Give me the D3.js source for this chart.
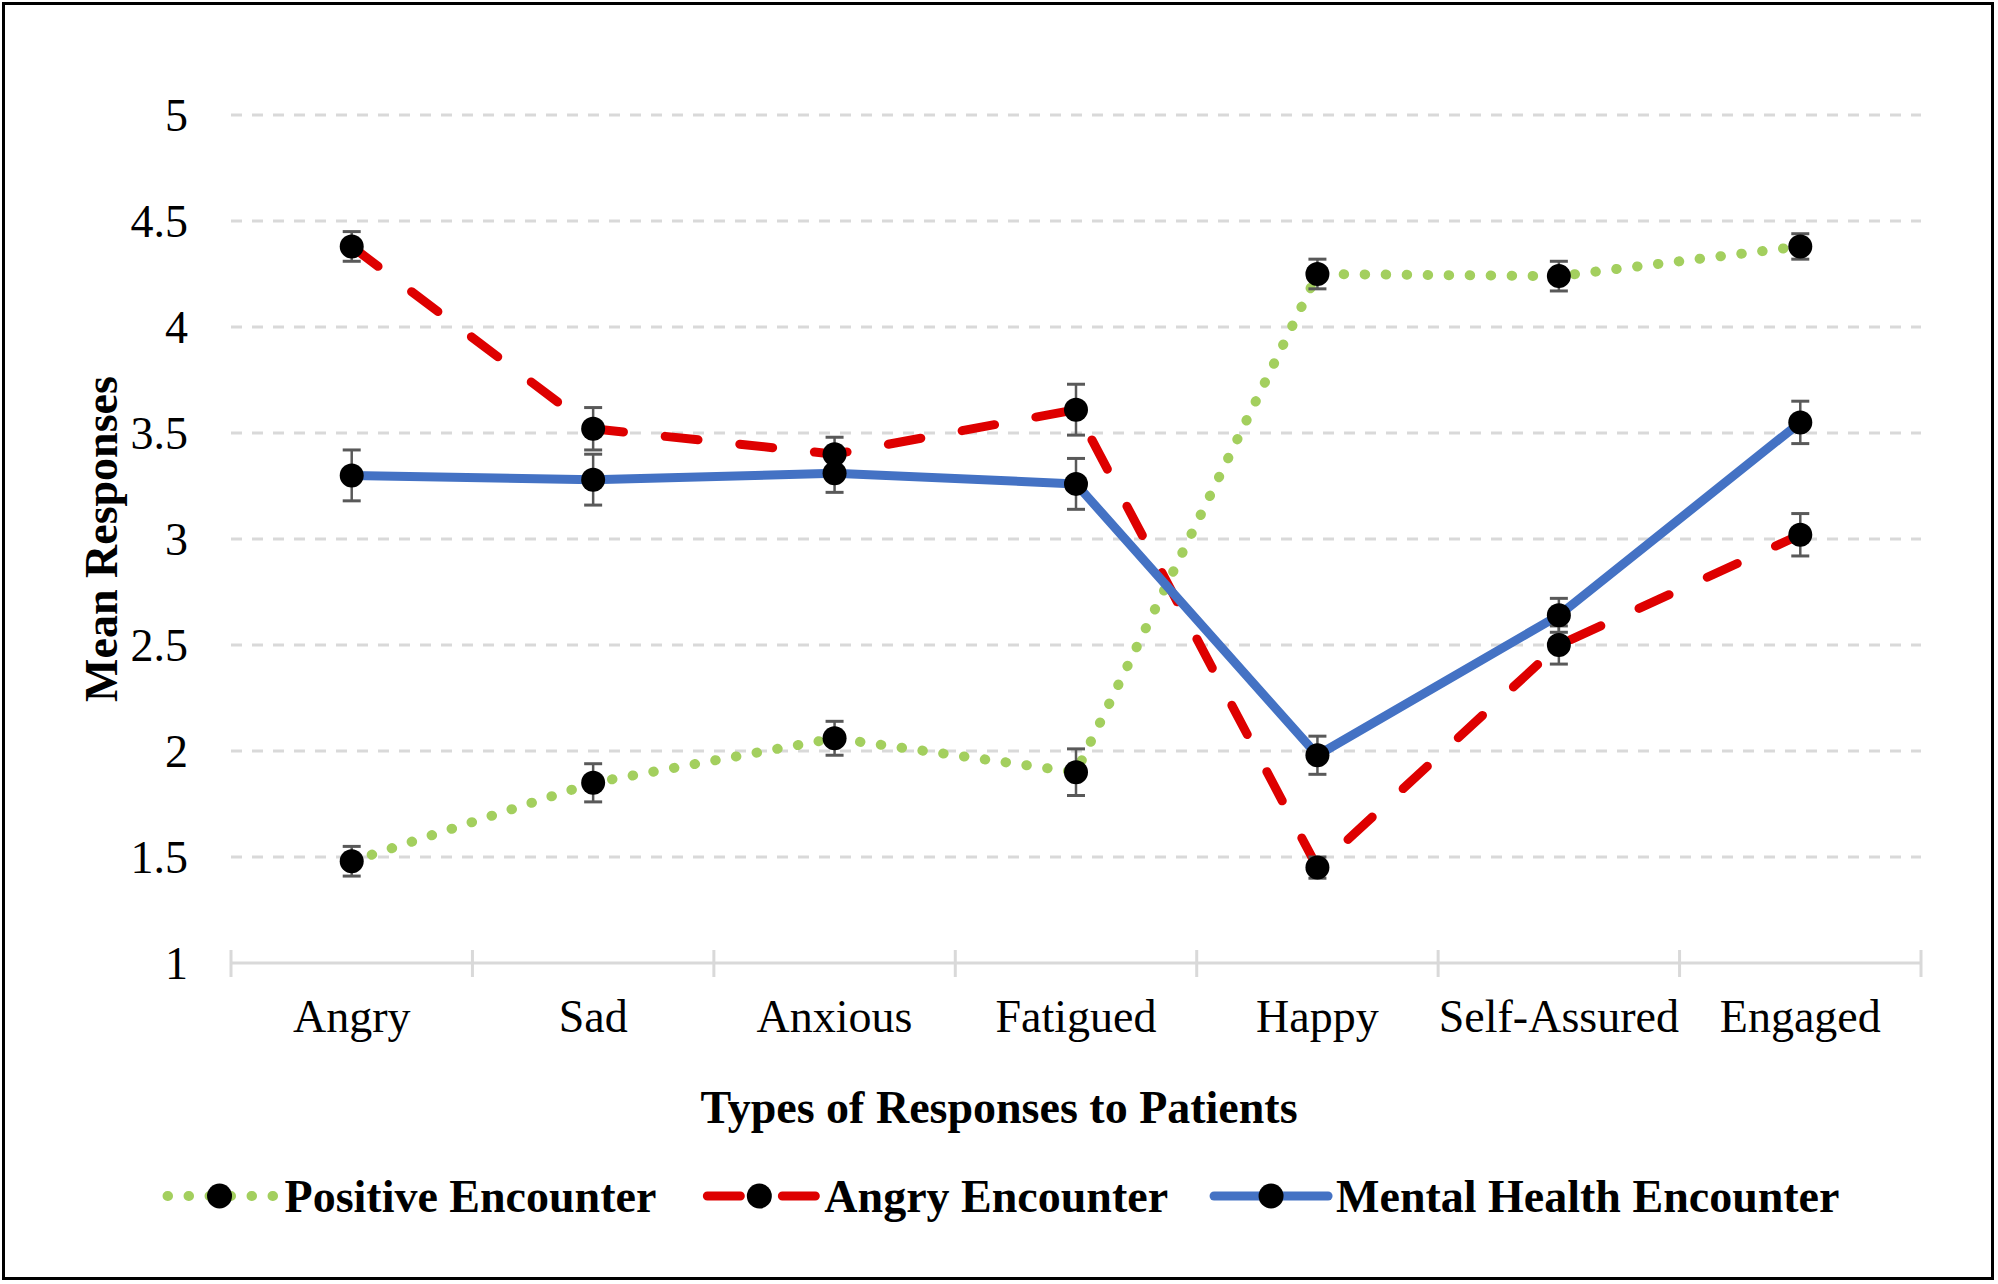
<!DOCTYPE html>
<html>
<head>
<meta charset="utf-8">
<script src="https://cdn.jsdelivr.net/npm/d3@7"></script>
<style>
  html, body { margin: 0; padding: 0; background: #fff; }
  svg { display: block; font-family: "Liberation Serif", "Times New Roman", serif; }
</style>
</head>
<body>
<svg id="chart" width="1998" height="1284"></svg>
<script>
// ---- Data ----
const categories = ["Angry", "Sad", "Anxious", "Fatigued", "Happy", "Self-Assured", "Engaged"];
const seriesNames = ["Positive Encounter", "Angry Encounter", "Mental Health Encounter"];
const positiveValues = [1.48, 1.85, 2.06, 1.90, 4.25, 4.24, 4.38];
const positiveErrors = [0.07, 0.09, 0.08, 0.11, 0.07, 0.07, 0.06];
const angryValues    = [4.38, 3.52, 3.40, 3.61, 1.45, 2.50, 3.02];
const angryErrors    = [0.07, 0.10, 0.08, 0.12, 0.05, 0.09, 0.10];
const mentalValues   = [3.30, 3.28, 3.31, 3.26, 1.98, 2.64, 3.55];
const mentalErrors   = [0.12, 0.12, 0.09, 0.12, 0.09, 0.08, 0.10];
const yTickValues = [1, 1.5, 2, 2.5, 3, 3.5, 4, 4.5, 5];
const yTickLabels = ["1", "1.5", "2", "2.5", "3", "3.5", "4", "4.5", "5"];
const xTitle = "Types of Responses to Patients";
const yTitle = "Mean Responses";

// ---- Styles ----
const styles = [
  { color: "#A3CF5E", width: 10, dash: "0.5,20.5", cap: "round" },
  { color: "#DE0000", width: 9,  dash: "33,42",    cap: "round" },
  { color: "#4472C4", width: 9,  dash: null,       cap: "round" }
];
const series = [
  { name: seriesNames[0], values: positiveValues, errors: positiveErrors, style: styles[0] },
  { name: seriesNames[1], values: angryValues,    errors: angryErrors,    style: styles[1] },
  { name: seriesNames[2], values: mentalValues,   errors: mentalErrors,   style: styles[2] }
];

const svg = d3.select("#chart");
const W = 1998, H = 1284;
const plot = { left: 231, right: 1921, top: 115, bottom: 963 };

const x = d3.scaleBand().domain(categories).range([plot.left, plot.right]).padding(0);
const y = d3.scaleLinear().domain([1, 5]).range([plot.bottom, plot.top]);
const cx = c => x(c) + x.bandwidth() / 2;

// background + frame
svg.append("rect").attr("x", 0).attr("y", 0).attr("width", W).attr("height", H).attr("fill", "#fff");
svg.append("rect").attr("x", 3.5).attr("y", 3.5).attr("width", 1989).attr("height", 1275)
  .attr("fill", "none").attr("stroke", "#000").attr("stroke-width", 3);

// gridlines
svg.append("g").selectAll("line").data(yTickValues.filter(v => v > 1)).join("line")
  .attr("x1", plot.left).attr("x2", plot.right)
  .attr("y1", d => y(d)).attr("y2", d => y(d))
  .attr("stroke", "#D9D9D9").attr("stroke-width", 3).attr("stroke-dasharray", "11,10");

// x axis line + ticks
svg.append("line").attr("x1", plot.left).attr("x2", plot.right)
  .attr("y1", y(1)).attr("y2", y(1)).attr("stroke", "#D9D9D9").attr("stroke-width", 3);
const boundaries = categories.map(c => x(c)).concat([x(categories[categories.length - 1]) + x.bandwidth()]);
svg.append("g").selectAll("line").data(boundaries).join("line")
  .attr("x1", d => d).attr("x2", d => d)
  .attr("y1", y(1) - 13).attr("y2", y(1) + 14)
  .attr("stroke", "#D9D9D9").attr("stroke-width", 3);

// y tick labels
svg.append("g").selectAll("text").data(yTickValues).join("text")
  .attr("x", 188).attr("y", d => y(d) + 16)
  .attr("text-anchor", "end").attr("font-size", 46).attr("fill", "#000")
  .text((d, i) => yTickLabels[i]);

// x tick labels
svg.append("g").selectAll("text").data(categories).join("text")
  .attr("x", d => cx(d)).attr("y", 1032)
  .attr("text-anchor", "middle").attr("font-size", 46).attr("fill", "#000")
  .text(d => d);

// axis titles
svg.append("text").attr("x", W / 2).attr("y", 1123)
  .attr("text-anchor", "middle").attr("font-size", 46).attr("font-weight", "bold")
  .text(xTitle);
svg.append("text")
  .attr("transform", `translate(117, ${(plot.top + plot.bottom) / 2}) rotate(-90)`)
  .attr("text-anchor", "middle").attr("font-size", 46).attr("font-weight", "bold")
  .text(yTitle);

// lines
const lineGen = d3.line().x((d, i) => cx(categories[i])).y(d => y(d));
series.forEach(s => {
  svg.append("path").datum(s.values)
    .attr("d", lineGen)
    .attr("fill", "none")
    .attr("stroke", s.style.color)
    .attr("stroke-width", s.style.width)
    .attr("stroke-linecap", s.style.cap)
    .attr("stroke-linejoin", "round")
    .attr("stroke-dasharray", s.style.dash);
});

// error bars
series.forEach(s => {
  const g = svg.append("g").attr("stroke", "#595959");
  s.values.forEach((v, i) => {
    const px = cx(categories[i]);
    const y1 = y(v + s.errors[i]), y2 = y(v - s.errors[i]);
    g.append("line").attr("x1", px).attr("x2", px).attr("y1", y1).attr("y2", y2).attr("stroke-width", 2.5);
    g.append("line").attr("x1", px - 9).attr("x2", px + 9).attr("y1", y1).attr("y2", y1).attr("stroke-width", 3);
    g.append("line").attr("x1", px - 9).attr("x2", px + 9).attr("y1", y2).attr("y2", y2).attr("stroke-width", 3);
  });
});

// markers
series.forEach(s => {
  svg.append("g").selectAll("circle").data(s.values).join("circle")
    .attr("cx", (d, i) => cx(categories[i])).attr("cy", d => y(d))
    .attr("r", 12).attr("fill", "#000");
});

// legend
const legendY = 1196;
const symLen = 114, textGap = 122, itemGap = 46;
const legend = svg.append("g");
const items = series.map(s => {
  const g = legend.append("g");
  g.append("line").attr("x1", 0).attr("x2", symLen).attr("y1", legendY).attr("y2", legendY)
    .attr("stroke", s.style.color).attr("stroke-width", s.style.width)
    .attr("stroke-linecap", s.style.cap)
    .attr("stroke-dasharray", s.style.dash ? (s.style.dash === "33,42" ? "33,42" : "0.5,20.5") : null)
    .attr("stroke-dashoffset", s.style.dash === "0.5,20.5" ? -5 : (s.style.dash === "33,42" ? -5 : 0));
  g.append("circle").attr("cx", symLen / 2).attr("cy", legendY).attr("r", 12.5).attr("fill", "#000");
  const t = g.append("text").attr("x", textGap).attr("y", 1212)
    .attr("font-size", 46).attr("font-weight", "bold").text(s.name);
  const w = textGap + t.node().getComputedTextLength();
  return { g, w };
});
const total = d3.sum(items, d => d.w) + itemGap * (items.length - 1);
let start = W / 2 - total / 2 + 2;
items.forEach(it => {
  it.g.attr("transform", `translate(${start},0)`);
  start += it.w + itemGap;
});
</script>
</body>
</html>
